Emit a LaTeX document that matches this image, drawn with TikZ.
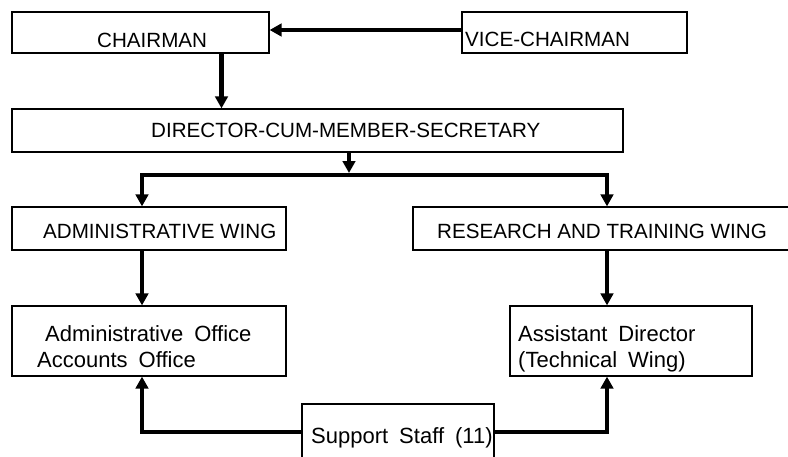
\documentclass[tikz,border=0pt]{standalone}
\usepackage{fontspec}
\setmainfont{Liberation Sans}
\newfontfamily\wordfont[WordSpace=1.8]{Liberation Sans}
\usetikzlibrary{arrows.meta}

\tikzset{
  box/.style={draw, rectangle, line width=1.2pt, inner sep=0pt},
  caps/.style={anchor=base west, inner sep=0pt, font=\fontsize{20.6}{24}\selectfont},
  words/.style={anchor=base west, inner sep=0pt, font=\wordfont\fontsize{22}{26}\selectfont},
  link/.style={line width=4.6pt, -{Triangle[length=12pt,width=12.5pt]}},
}

\begin{document}
\begin{tikzpicture}[x=1pt, y=-1pt]
   \path[use as bounding box, clip] (0,0) rectangle (788,456);
   % boxes
   \node[box, minimum width=257pt, minimum height=41pt] (chair) at (140.5,32.5) {};
   \node[box, minimum width=225pt, minimum height=41pt] (vice) at (574.5,32.5) {};
   \node[box, minimum width=611pt, minimum height=43pt] (dir) at (317.5,130.5) {};
   \node[box, minimum width=274pt, minimum height=43pt] (admwing) at (149,228.5) {};
   \node[box, minimum width=387pt, minimum height=43pt] (reswing) at (606.5,228.5) {};
   \node[box, minimum width=274pt, minimum height=70pt] (admoff) at (149,341) {};
   \node[box, minimum width=242pt, minimum height=70pt] (asstdir) at (631,341) {};
   \node[box, minimum width=192pt, minimum height=76pt] (staff) at (398,442) {};

   % texts
   \node[caps] (chairtxt) at (97,47) {CHAIRMAN};
   \node[caps] (vicetxt) at (465,46) {VICE-CHAIRMAN};
   \node[caps] (dirtxt) at (151,137) {DIRECTOR-CUM-MEMBER-SECRETARY};
   \node[caps] (admwingtxt) at (43,238) {ADMINISTRATIVE WING};
   \node[caps] (reswingtxt) at (437,238) {RESEARCH AND TRAINING WING};
   \node[words] (admofftxt) at (45,341) {Administrative Office};
   \node[words] (acctofftxt) at (37,367) {Accounts Office};
   \node[words] (asstdirtxt) at (518,341) {Assistant Director};
   \node[words] (techwingtxt) at (518,367) {(Technical Wing)};
   \node[words] (stafftxt) at (311,443) {Support Staff (11)};

   % connectors
   \coordinate (top) at (221.5,0);
   \coordinate (split) at (349,173);
   \coordinate (left) at (142,175);
   \coordinate (right) at (607,175);
   \coordinate (base) at (0,432);
   \draw[link] ([yshift=2.5pt]vice.west) -- ([yshift=2.5pt]chair.east);
   \draw[link] (top |- chair.south) -- (top |- dir.north);
   \draw[link] (split |- dir.south) -- (split);
   \draw[link] (split |- left) -| (left |- admwing.north);
   \draw[link] (split |- left) -| (right |- reswing.north);
   \draw[link] (left |- admwing.south) -- (left |- admoff.north);
   \draw[link] (right |- reswing.south) -- (right |- asstdir.north);
   \draw[link] (staff.west |- base) -| (left |- admoff.south);
   \draw[link] (staff.east |- base) -| (right |- asstdir.south);
\end{tikzpicture}
\end{document}
